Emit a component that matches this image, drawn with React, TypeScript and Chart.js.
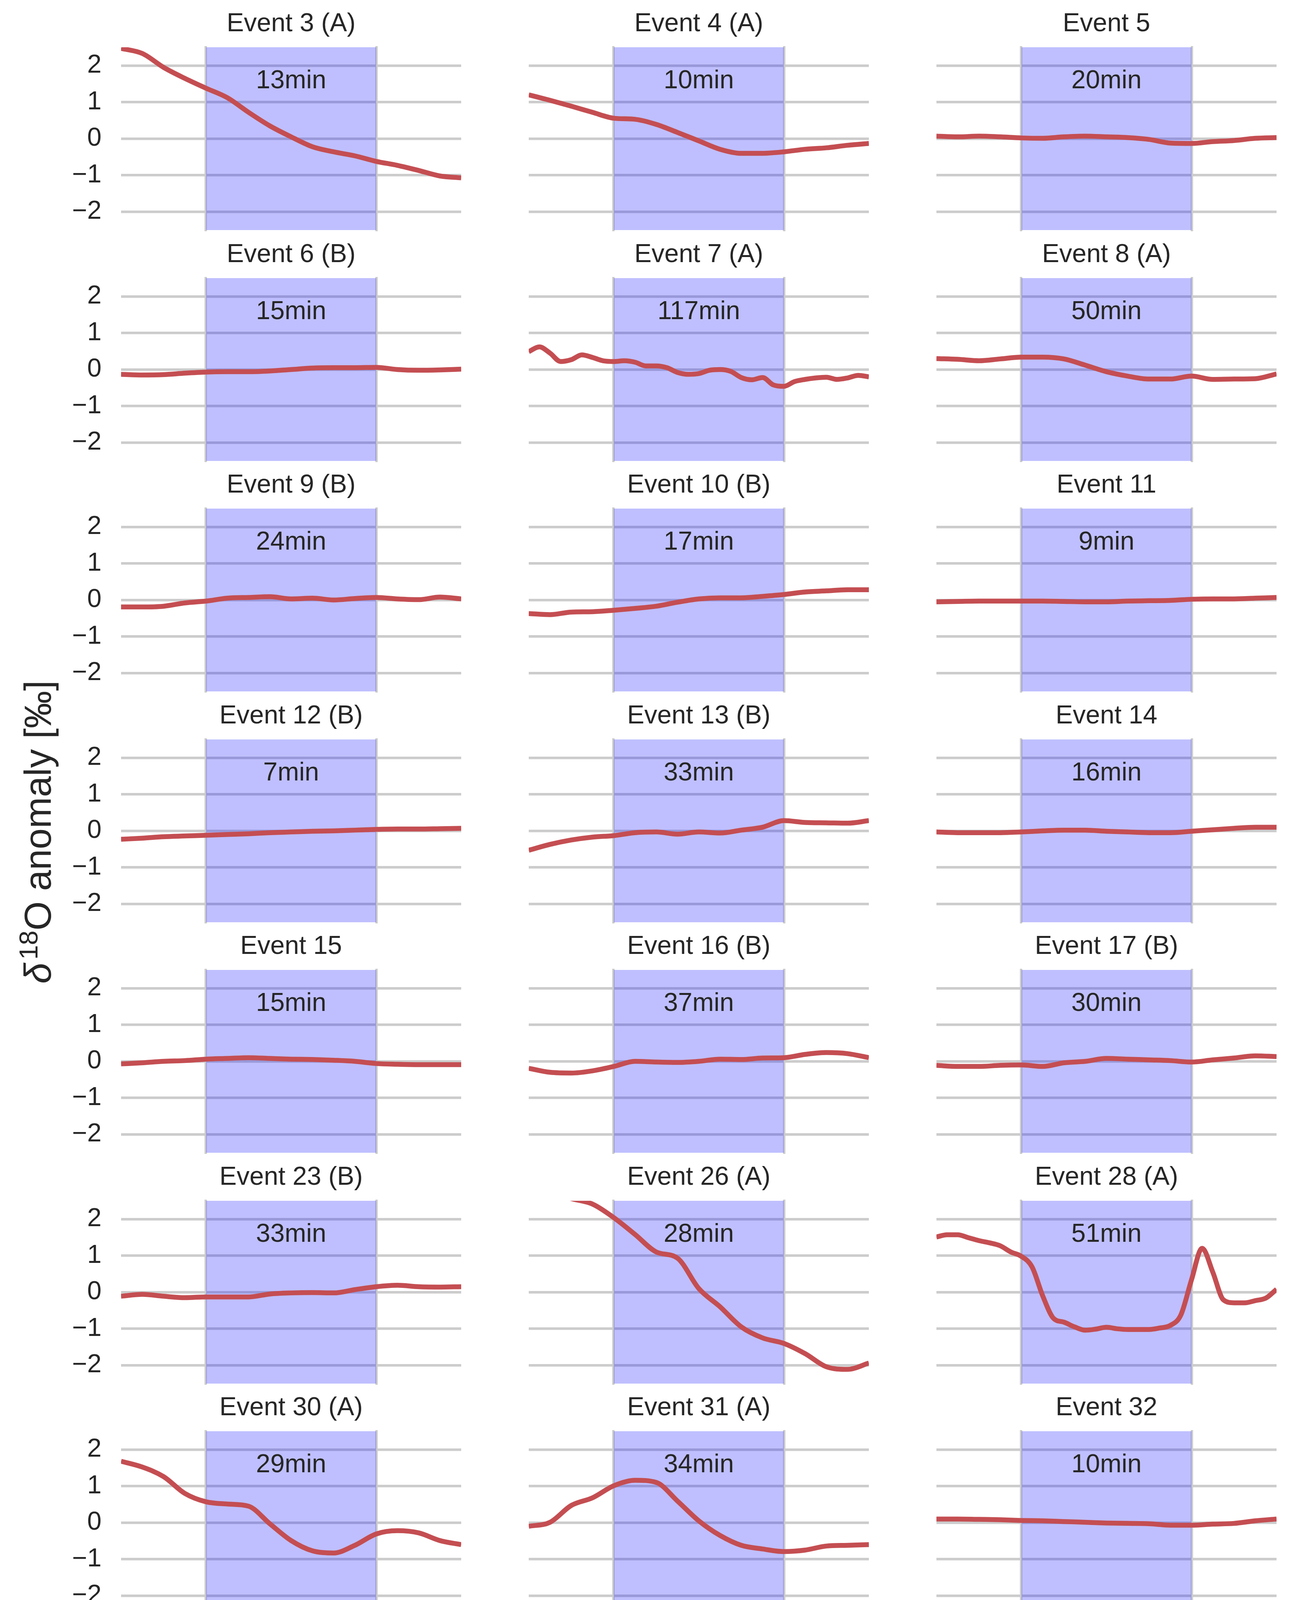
import React, { useEffect, useRef } from 'react';
import { Chart, registerables } from 'chart.js';

Chart.register(...registerables);

const FONT = '"Liberation Sans", Arial, Helvetica, sans-serif';
const TEXT = '#262626';

// ---- data ----
const titles = [
  'Event 3 (A)', 'Event 4 (A)', 'Event 5',
  'Event 6 (B)', 'Event 7 (A)', 'Event 8 (A)',
  'Event 9 (B)', 'Event 10 (B)', 'Event 11',
  'Event 12 (B)', 'Event 13 (B)', 'Event 14',
  'Event 15', 'Event 16 (B)', 'Event 17 (B)',
  'Event 23 (B)', 'Event 26 (A)', 'Event 28 (A)',
  'Event 30 (A)', 'Event 31 (A)', 'Event 32',
];

const durations = [
  '13min', '10min', '20min',
  '15min', '117min', '50min',
  '24min', '17min', '9min',
  '7min', '33min', '16min',
  '15min', '37min', '30min',
  '33min', '28min', '51min',
  '29min', '34min', '10min',
];

const yTicks = [-2, -1, 0, 1, 2];
const yMin = -2.5;
const yMax = 2.5;
const shadeFrom = 0.25;
const shadeTo = 0.75;
const durationLabelY = 1.57;

const e3 = [2.47, 2.33, 1.95, 1.65, 1.38, 1.12, 0.72, 0.35, 0.05, -0.22, -0.36, -0.47, -0.62, -0.73, -0.87, -1.02, -1.07];
const e4 = [1.2, 1.05, 0.89, 0.72, 0.56, 0.53, 0.39, 0.17, -0.06, -0.29, -0.4, -0.4, -0.36, -0.29, -0.25, -0.18, -0.13];
const e5 = [0.07, 0.05, 0.07, 0.05, 0.02, 0.01, 0.05, 0.07, 0.05, 0.03, -0.02, -0.12, -0.13, -0.08, -0.05, 0.01, 0.03];
const e6 = [-0.13, -0.15, -0.14, -0.1, -0.07, -0.06, -0.06, -0.04, 0.0, 0.04, 0.05, 0.05, 0.06, 0.0, -0.02, -0.01, 0.01];
const e7 = [0.49, 0.62, 0.45, 0.22, 0.27, 0.4, 0.33, 0.24, 0.22, 0.24, 0.2, 0.1, 0.1, 0.05, -0.08, -0.13, -0.11, -0.02, 0.0, -0.05, -0.22, -0.28, -0.22, -0.42, -0.46, -0.33, -0.27, -0.23, -0.21, -0.27, -0.23, -0.16, -0.2];
const e8 = [0.3, 0.28, 0.24, 0.29, 0.34, 0.34, 0.29, 0.12, -0.06, -0.18, -0.26, -0.26, -0.18, -0.27, -0.26, -0.25, -0.12];
const e9 = [-0.19, -0.19, -0.17, -0.08, -0.03, 0.05, 0.07, 0.09, 0.03, 0.05, 0.0, 0.04, 0.07, 0.03, 0.01, 0.08, 0.03];
const e10 = [-0.37, -0.4, -0.33, -0.32, -0.28, -0.23, -0.17, -0.06, 0.03, 0.06, 0.06, 0.1, 0.15, 0.22, 0.25, 0.28, 0.28];
const e11 = [-0.05, -0.04, -0.03, -0.03, -0.03, -0.03, -0.04, -0.05, -0.05, -0.03, -0.02, -0.01, 0.02, 0.03, 0.03, 0.05, 0.07];
const e12 = [-0.23, -0.2, -0.16, -0.14, -0.12, -0.1, -0.08, -0.05, -0.03, -0.01, 0.0, 0.02, 0.04, 0.05, 0.05, 0.06, 0.07];
const e13 = [-0.53, -0.37, -0.25, -0.17, -0.13, -0.05, -0.03, -0.09, -0.03, -0.06, 0.02, 0.1, 0.28, 0.23, 0.22, 0.21, 0.28];
const e14 = [-0.03, -0.05, -0.05, -0.05, -0.03, 0.0, 0.02, 0.02, -0.01, -0.03, -0.05, -0.05, -0.01, 0.03, 0.07, 0.1, 0.1];
const e15 = [-0.07, -0.04, 0.0, 0.02, 0.06, 0.08, 0.1, 0.08, 0.06, 0.05, 0.03, 0.0, -0.06, -0.08, -0.09, -0.09, -0.09];
const e16 = [-0.19, -0.3, -0.32, -0.26, -0.14, 0.0, -0.02, -0.03, 0.0, 0.06, 0.05, 0.09, 0.1, 0.19, 0.24, 0.21, 0.1];
const e17 = [-0.11, -0.14, -0.14, -0.11, -0.1, -0.14, -0.04, 0.0, 0.08, 0.06, 0.04, 0.02, -0.02, 0.04, 0.09, 0.15, 0.13];
const e23 = [-0.11, -0.06, -0.11, -0.15, -0.13, -0.13, -0.13, -0.05, -0.02, -0.01, -0.02, 0.07, 0.15, 0.19, 0.15, 0.14, 0.15];
const e26 = [2.9, 2.75, 2.56, 2.41, 2.04, 1.58, 1.1, 0.93, 0.1, -0.4, -0.95, -1.25, -1.4, -1.68, -2.04, -2.11, -1.94];
const e28 = [1.51, 1.57, 1.57, 1.49, 1.41, 1.35, 1.27, 1.1, 0.98, 0.69, -0.1, -0.71, -0.82, -0.95, -1.04, -1.01, -0.96, -1.0, -1.02, -1.02, -1.02, -0.98, -0.91, -0.62, 0.34, 1.2, 0.55, -0.21, -0.29, -0.29, -0.23, -0.16, 0.08];
const e30 = [1.68, 1.52, 1.26, 0.8, 0.57, 0.51, 0.45, -0.03, -0.49, -0.77, -0.83, -0.62, -0.31, -0.22, -0.28, -0.49, -0.6];
const e31 = [-0.1, 0.01, 0.47, 0.68, 1.01, 1.16, 1.1, 0.59, 0.05, -0.35, -0.62, -0.72, -0.79, -0.75, -0.64, -0.62, -0.6];
const e32 = [0.1, 0.1, 0.09, 0.08, 0.06, 0.05, 0.03, 0.01, -0.01, -0.02, -0.03, -0.07, -0.07, -0.04, -0.02, 0.05, 0.1];

const series = [
  e3, e4, e5,
  e6, e7, e8,
  e9, e10, e11,
  e12, e13, e14,
  e15, e16, e17,
  e23, e26, e28,
  e30, e31, e32,
];

// ---- layout ----
const COL_LEFT = [310, 1354, 2398];
const AXIS_W = 871;
const AXIS_H = 468;
const ROW_TOP0 = 121;
const ROW_PITCH = 590.5;
const Y_AXIS_W = 200;
const TITLE_H = 110;
const BOTTOM_H = 100;
const RIGHT_PAD = 10;
const CW = Y_AXIS_W + AXIS_W + RIGHT_PAD;
const CH = TITLE_H + AXIS_H + BOTTOM_H;

function fmtTick(v: number): string {
  return v < 0 ? '\u2212' + Math.abs(v) : String(v);
}

function Panel({ idx }: { idx: number }) {
  const ref = useRef<HTMLCanvasElement>(null);
  const col = idx % 3;
  const row = Math.floor(idx / 3);
  const left = COL_LEFT[col] - Y_AXIS_W;
  const top = ROW_TOP0 + ROW_PITCH * row - TITLE_H;

  useEffect(() => {
    if (!ref.current) return;
    const ys = series[idx];
    const n = ys.length;
    const data = ys.map((y, i) => ({ x: i / (n - 1), y }));

    const shadePlugin = {
      id: 'shade',
      beforeDatasetsDraw(chart: any) {
        const { ctx, chartArea, scales } = chart;
        const x0 = scales.x.getPixelForValue(shadeFrom);
        const x1 = scales.x.getPixelForValue(shadeTo);
        ctx.save();
        ctx.strokeStyle = '#cccccc';
        ctx.lineWidth = 6;
        ctx.beginPath();
        ctx.moveTo(x0 - 1, chartArea.top - 3);
        ctx.lineTo(x0 - 1, chartArea.bottom + 3);
        ctx.moveTo(x1 + 1, chartArea.top - 3);
        ctx.lineTo(x1 + 1, chartArea.bottom + 3);
        ctx.stroke();
        ctx.fillStyle = 'rgba(0,0,255,0.25)';
        ctx.fillRect(x0, chartArea.top, x1 - x0, chartArea.bottom - chartArea.top);
        ctx.restore();
      },
      afterDatasetsDraw(chart: any) {
        const { ctx, scales } = chart;
        const xc = scales.x.getPixelForValue((shadeFrom + shadeTo) / 2);
        const yc = scales.y.getPixelForValue(durationLabelY);
        ctx.save();
        ctx.fillStyle = TEXT;
        ctx.font = `66px ${FONT}`;
        ctx.textAlign = 'center';
        ctx.textBaseline = 'middle';
        ctx.fillText(durations[idx], xc, yc);
        ctx.restore();
      },
    };

    const chart = new Chart(ref.current, {
      type: 'line',
      data: {
        datasets: [
          {
            data,
            borderColor: '#c44e52',
            borderWidth: 12.5,
            pointRadius: 0,
            fill: false,
            cubicInterpolationMode: 'monotone',
            borderJoinStyle: 'round',
            clip: 0,
          } as any,
        ],
      },
      options: {
        responsive: false,
        animation: false,
        devicePixelRatio: 1,
        events: [],
        layout: { padding: { left: 0, right: RIGHT_PAD, top: 0, bottom: 0 } },
        plugins: {
          legend: { display: false },
          tooltip: { enabled: false },
          title: {
            display: true,
            text: titles[idx],
            fullSize: false,
            color: TEXT,
            font: { family: FONT, size: 66, weight: 'normal' as any, lineHeight: 1.2 },
            padding: { top: 11.4, bottom: 19.4 },
          },
        },
        scales: {
          x: {
            type: 'linear',
            min: 0,
            max: 1,
            ticks: { display: false },
            grid: { display: false },
            border: { display: false },
            afterFit: (s: any) => {
              s.height = BOTTOM_H;
            },
          },
          y: {
            type: 'linear',
            min: yMin,
            max: yMax,
            afterBuildTicks: (s: any) => {
              s.ticks = yTicks.map((v) => ({ value: v }));
            },
            ticks: {
              display: col === 0,
              autoSkip: false,
              padding: 50,
              color: TEXT,
              font: { family: FONT, size: 66 },
              callback: (v: any) => fmtTick(Number(v)),
            },
            grid: { color: '#cccccc', lineWidth: 6.5, drawTicks: false },
            border: { display: false },
            afterFit: (s: any) => {
              s.width = Y_AXIS_W;
            },
          },
        },
      } as any,
      plugins: [shadePlugin],
    });
    return () => chart.destroy();
  }, [idx]);

  return (
    <canvas
      ref={ref}
      width={CW}
      height={CH}
      style={{ position: 'absolute', left, top, width: CW, height: CH }}
    />
  );
}

export default function App() {
  return (
    <div
      style={{
        position: 'absolute',
        left: 0,
        top: 0,
        width: 3306,
        height: 4313,
        background: '#ffffff',
        overflow: 'hidden',
        fontFamily: FONT,
        color: TEXT,
      }}
    >
      {titles.map((_, i) => (
        <Panel key={i} idx={i} />
      ))}
      <div
        style={{
          position: 'absolute',
          left: 97 - 500,
          top: 2130 - 49,
          width: 1000,
          height: 98,
          lineHeight: '98px',
          fontSize: 96,
          textAlign: 'center',
          transform: 'rotate(-90deg)',
          whiteSpace: 'nowrap',
        }}
      >
        <span style={{ fontStyle: 'italic' }}>δ</span>
        <span
          style={{
            fontSize: '0.7em',
            verticalAlign: '0.5em',
            lineHeight: 0,
            marginLeft: '0.12em',
          }}
        >
          18
        </span>
        O anomaly [‰]
      </div>
      <div
        style={{
          position: 'absolute',
          left: 1789 - 300,
          top: 4197,
          width: 600,
          height: 98,
          lineHeight: '98px',
          fontSize: 98,
          textAlign: 'center',
          whiteSpace: 'nowrap',
        }}
      >
        Time
      </div>
    </div>
  );
}
